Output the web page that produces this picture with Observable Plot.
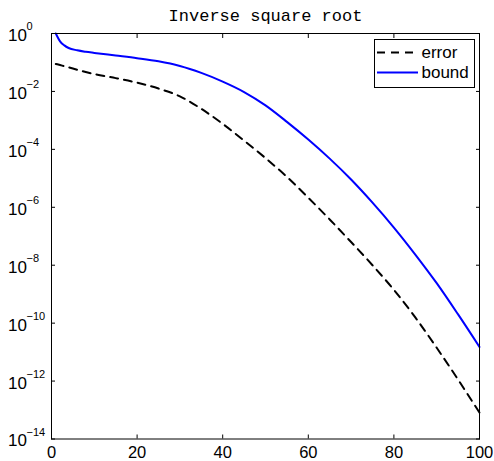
<!DOCTYPE html>
<html>
<head>
<meta charset="utf-8">
<script src="https://cdn.jsdelivr.net/npm/d3@7"></script>
<script src="https://cdn.jsdelivr.net/npm/@observablehq/plot@0.6"></script>
<style>
  html, body { margin: 0; padding: 0; background: #fff; }
</style>
</head>
<body>
<div id="chart"></div>
<script>
// ---- data ----
const titleText = "Inverse square root";
const xs = [1, 2, 3, 4, 6, 8, 10, 15, 20, 25, 30, 35, 40, 45, 50, 55, 60, 65, 70, 75, 80, 85, 90, 95, 100];
const errorValues = [8.91e-2, 8.13e-2, 7.41e-2, 6.76e-2, 5.62e-2, 4.68e-2, 3.98e-2, 2.88e-2, 2.00e-2, 1.26e-2,
  6.76e-3, 2.51e-3, 7.59e-4, 2.00e-4, 5.01e-5, 1.12e-5, 2.14e-6, 3.80e-7, 6.31e-8, 1.00e-8,
  1.41e-9, 1.58e-10, 1.41e-11, 1.12e-12, 8.13e-14];
const boundValues = [1.0, 0.537, 0.389, 0.316, 0.263, 0.234, 0.214, 0.174, 0.141, 0.110,
  7.59e-2, 4.37e-2, 2.19e-2, 9.55e-3, 3.31e-3, 8.91e-4, 2.19e-4, 4.79e-5, 9.12e-6, 1.45e-6,
  2.00e-7, 2.34e-8, 2.40e-9, 2.00e-10, 1.51e-11];
const seriesNames = ["error", "bound"];
const xTicks = [0, 20, 40, 60, 80, 100];
const yTickExps = [0, -2, -4, -6, -8, -10, -12, -14];
const xDomain = [0, 100];
const yDomain = [1e-14, 1];

// ---- derived tables ----
const errorData = xs.map((x, i) => ({x, y: errorValues[i]}));
const boundData = xs.map((x, i) => ({x, y: boundValues[i]}));
const yTicks = yTickExps.map(e => Math.pow(10, e));
const expLabel = v => {
  const e = Math.round(Math.log10(v));
  return e < 0 ? "\u2212" + Math.abs(e) : String(e);
};

const sans = "'Liberation Sans', Arial, Helvetica, sans-serif";
const mono = "'Liberation Mono', 'Courier New', monospace";

const chart = Plot.plot({
  width: 494,
  height: 461,
  marginLeft: 51,
  marginRight: 15,
  marginTop: 33,
  marginBottom: 22.5,
  style: {fontFamily: sans, fontSize: "17px", background: "#fff", color: "#000", overflow: "visible"},
  x: {domain: xDomain, label: null},
  y: {type: "log", domain: yDomain, label: null},
  marks: [
    // data lines
    Plot.line(errorData, {x: "x", y: "y", stroke: "black", strokeWidth: 2, strokeDasharray: "8,6", curve: "monotone-x"}),
    Plot.line(boundData, {x: "x", y: "y", stroke: "blue", strokeWidth: 2, curve: "monotone-x"}),
    // frame and inward ticks
    Plot.frame({stroke: "black", strokeWidth: 1}),
    Plot.axisX({ticks: xTicks, tickSize: -4, tickPadding: 11, fontSize: 16.5, stroke: "black", tickFormat: d => String(d)}),
    Plot.axisX({anchor: "top", ticks: xTicks, tickSize: -4, stroke: "black", tickFormat: () => ""}),
    Plot.axisY({ticks: yTicks, tickSize: -4, stroke: "black", tickFormat: () => ""}),
    Plot.axisY({anchor: "right", ticks: yTicks, tickSize: -4, stroke: "black", tickFormat: () => ""}),
    // y tick labels: 10 with superscript exponent
    Plot.text(yTicks, {y: d => d, frameAnchor: "left", lineAnchor: "middle", text: () => "10", textAnchor: "start", dx: -43.5, dy: 2, fontSize: 17, fill: "black"}),
    Plot.text(yTicks, {y: d => d, frameAnchor: "left", lineAnchor: "middle", text: d => expLabel(d), textAnchor: "start", dx: -25, dy: -7, fontSize: 11, fill: "black"}),
    // title
    Plot.text([titleText], {frameAnchor: "top", lineAnchor: "middle", dy: -18, fontFamily: mono, fontSize: 17, fill: "black"}),
    // legend
    Plot.frame({fill: "white", stroke: "black", strokeWidth: 1, insetLeft: 323, insetRight: 5, insetTop: 6, insetBottom: 351.5}),
    Plot.ruleY([yDomain[1]], {dy: 19, insetLeft: 326, insetRight: 61, stroke: "black", strokeWidth: 2, strokeDasharray: "8,6"}),
    Plot.ruleY([yDomain[1]], {dy: 39, insetLeft: 326, insetRight: 61, stroke: "blue", strokeWidth: 2}),
    Plot.text([seriesNames[0]], {frameAnchor: "top-right", lineAnchor: "middle", dx: -58, dy: 19, textAnchor: "start", fontSize: 17, fill: "black"}),
    Plot.text([seriesNames[1]], {frameAnchor: "top-right", lineAnchor: "middle", dx: -58, dy: 39, textAnchor: "start", fontSize: 17, fill: "black"})
  ]
});
document.getElementById("chart").appendChild(chart);
</script>
</body>
</html>
